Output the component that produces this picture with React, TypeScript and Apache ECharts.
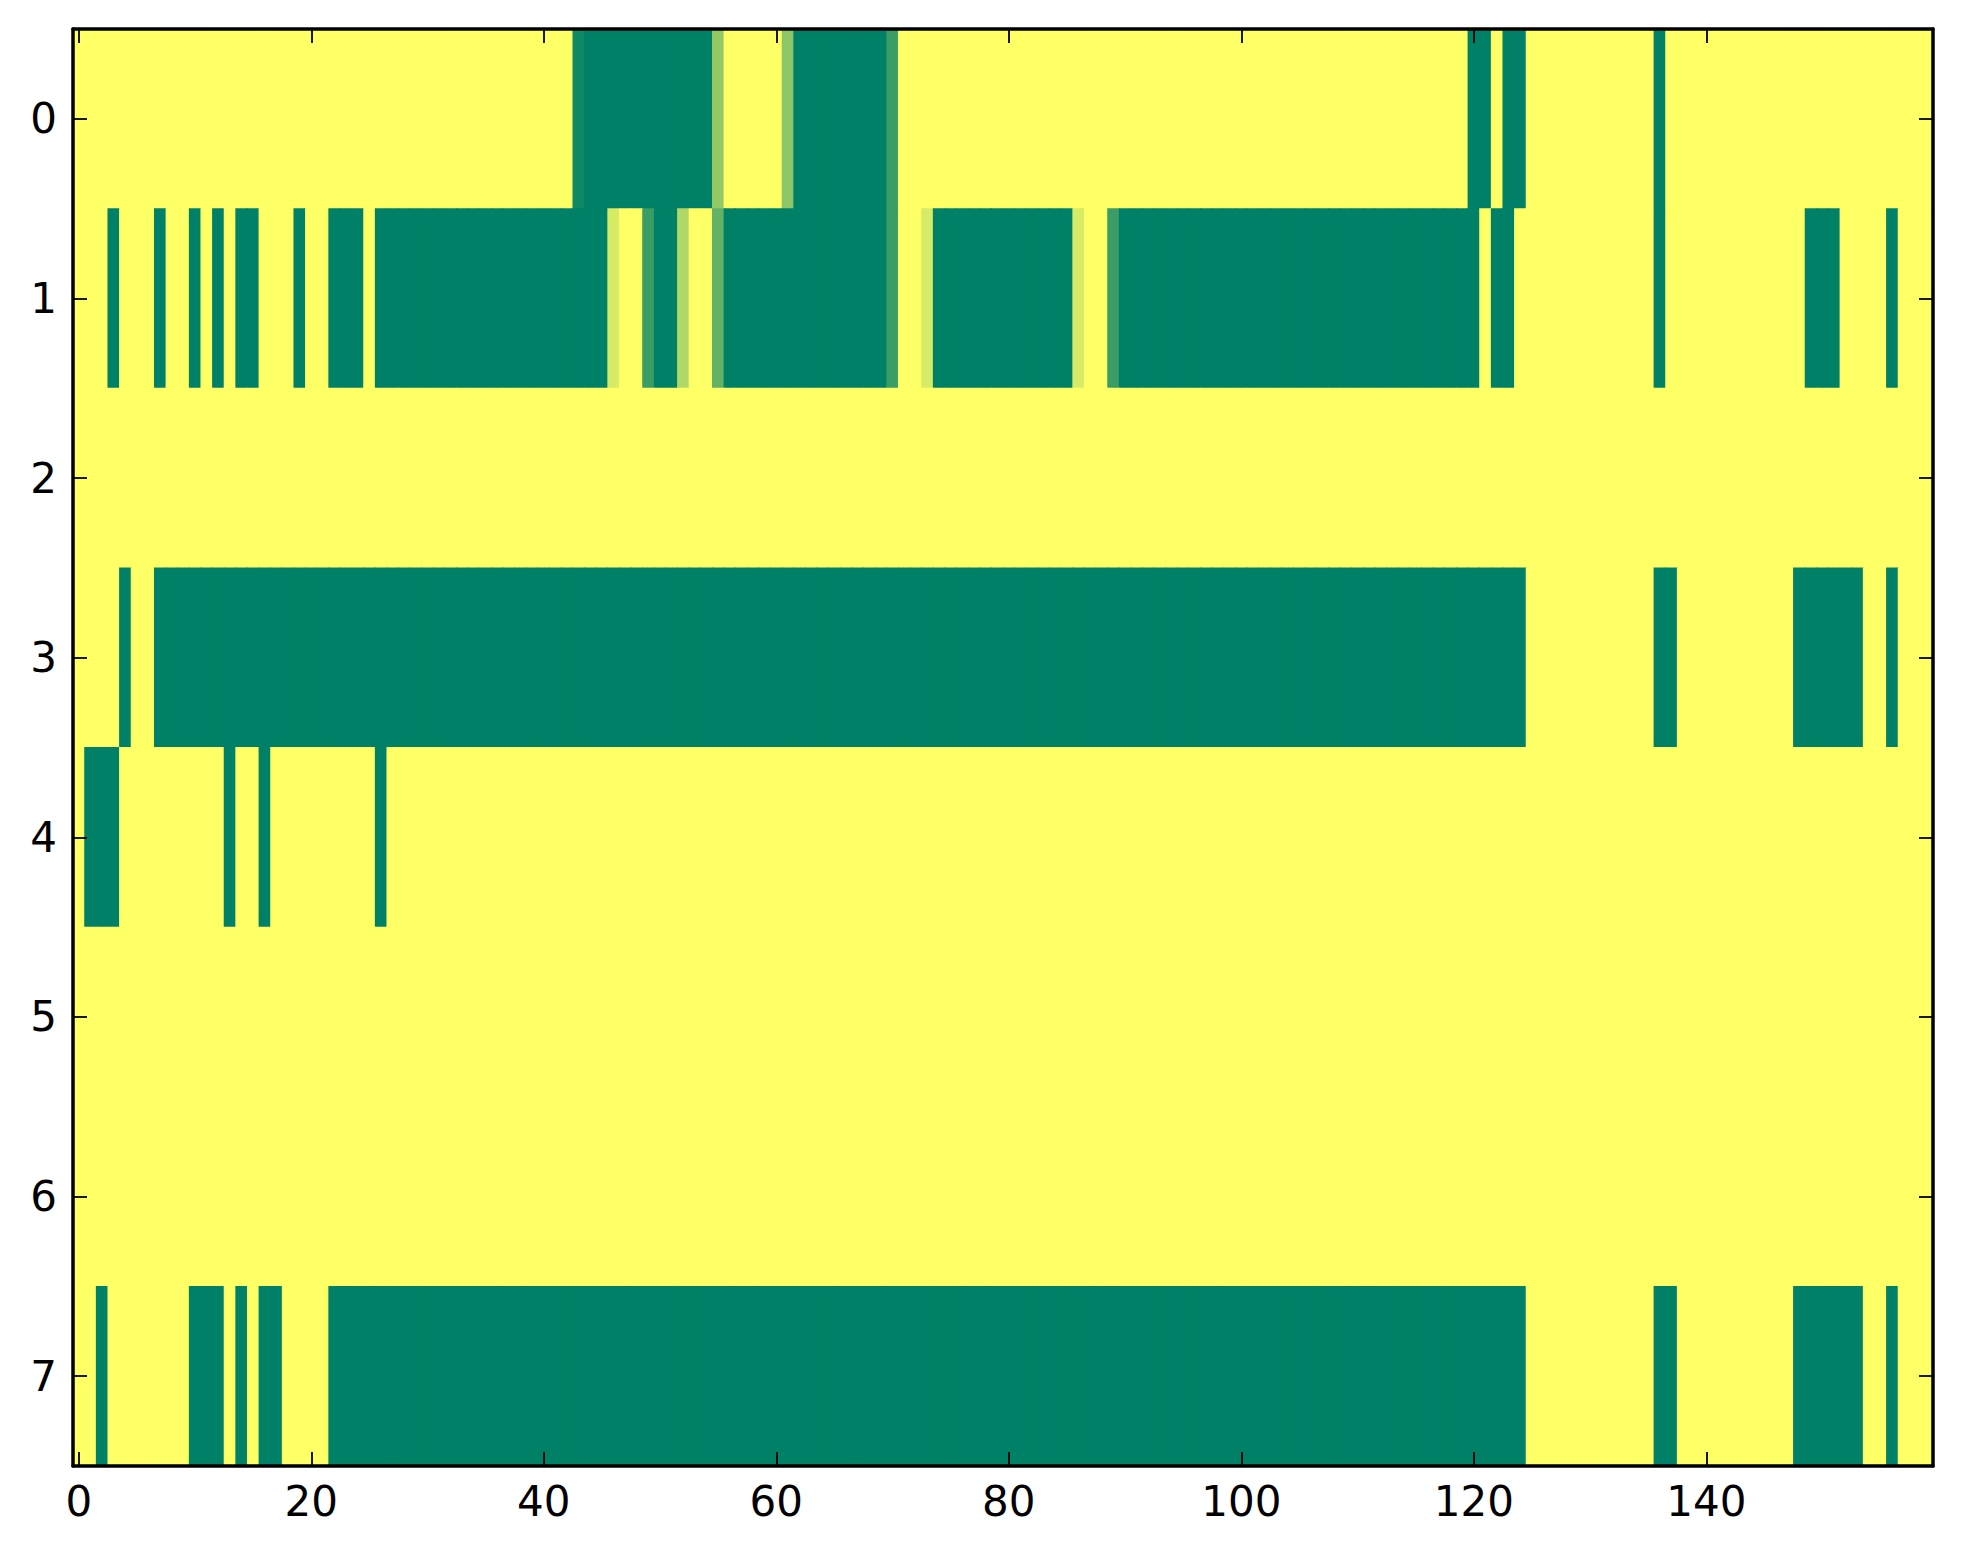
import { useEffect, useRef } from 'react';
import * as echarts from 'echarts';

// rows of the image, top (0) to bottom (7)
const rowLabels = ['0', '1', '2', '3', '4', '5', '6', '7'];
// one category per image column
const columnLabels = Array.from({ length: 160 }, (_, i) => String(i));
const xTickLabels = ['0', '20', '40', '60', '80', '100', '120', '140'];

// values per row, 20 columns per line (0 = green, 1 = yellow)
const row0 = [
  1, 1, 1, 1, 1, 1, 1, 1, 1, 1, 1, 1, 1, 1, 1, 1, 1, 1, 1, 1,
  1, 1, 1, 1, 1, 1, 1, 1, 1, 1, 1, 1, 1, 1, 1, 1, 1, 1, 1, 1,
  1, 1, 1, 0.07, 0, 0, 0, 0, 0, 0, 0, 0, 0, 0, 0, 0.58, 1, 1, 1, 1,
  1, 0.55, 0, 0, 0, 0, 0, 0, 0, 0, 0.23, 1, 1, 1, 1, 1, 1, 1, 1, 1,
  1, 1, 1, 1, 1, 1, 1, 1, 1, 1, 1, 1, 1, 1, 1, 1, 1, 1, 1, 1,
  1, 1, 1, 1, 1, 1, 1, 1, 1, 1, 1, 1, 1, 1, 1, 1, 1, 1, 1, 1,
  0, 0, 1, 0, 0, 1, 1, 1, 1, 1, 1, 1, 1, 1, 1, 1, 0, 1, 1, 1,
  1, 1, 1, 1, 1, 1, 1, 1, 1, 1, 1, 1, 1, 1, 1, 1, 1, 1, 1, 1,
];
const row1 = [
  1, 1, 1, 0, 1, 1, 1, 0, 1, 1, 0, 1, 0, 1, 0, 0, 1, 1, 1, 0,
  1, 1, 0, 0, 0, 1, 0, 0, 0, 0, 0, 0, 0, 0, 0, 0, 0, 0, 0, 0,
  0, 0, 0, 0, 0, 0, 0.84, 1, 1, 0.23, 0, 0, 0.69, 1, 1, 0.39, 0, 0, 0, 0,
  0, 0, 0, 0, 0, 0, 0, 0, 0, 0, 0.23, 1, 1, 0.84, 0, 0, 0, 0, 0, 0,
  0, 0, 0, 0, 0, 0, 0.84, 1, 1, 0.23, 0, 0, 0, 0, 0, 0, 0, 0, 0, 0,
  0, 0, 0, 0, 0, 0, 0, 0, 0, 0, 0, 0, 0, 0, 0, 0, 0, 0, 0, 0,
  0, 1, 0, 0, 1, 1, 1, 1, 1, 1, 1, 1, 1, 1, 1, 1, 0, 1, 1, 1,
  1, 1, 1, 1, 1, 1, 1, 1, 1, 0, 0, 0, 1, 1, 1, 1, 0, 1, 1, 1,
];
const row2 = [
  1, 1, 1, 1, 1, 1, 1, 1, 1, 1, 1, 1, 1, 1, 1, 1, 1, 1, 1, 1,
  1, 1, 1, 1, 1, 1, 1, 1, 1, 1, 1, 1, 1, 1, 1, 1, 1, 1, 1, 1,
  1, 1, 1, 1, 1, 1, 1, 1, 1, 1, 1, 1, 1, 1, 1, 1, 1, 1, 1, 1,
  1, 1, 1, 1, 1, 1, 1, 1, 1, 1, 1, 1, 1, 1, 1, 1, 1, 1, 1, 1,
  1, 1, 1, 1, 1, 1, 1, 1, 1, 1, 1, 1, 1, 1, 1, 1, 1, 1, 1, 1,
  1, 1, 1, 1, 1, 1, 1, 1, 1, 1, 1, 1, 1, 1, 1, 1, 1, 1, 1, 1,
  1, 1, 1, 1, 1, 1, 1, 1, 1, 1, 1, 1, 1, 1, 1, 1, 1, 1, 1, 1,
  1, 1, 1, 1, 1, 1, 1, 1, 1, 1, 1, 1, 1, 1, 1, 1, 1, 1, 1, 1,
];
const row3 = [
  1, 1, 1, 1, 0, 1, 1, 0, 0, 0, 0, 0, 0, 0, 0, 0, 0, 0, 0, 0,
  0, 0, 0, 0, 0, 0, 0, 0, 0, 0, 0, 0, 0, 0, 0, 0, 0, 0, 0, 0,
  0, 0, 0, 0, 0, 0, 0, 0, 0, 0, 0, 0, 0, 0, 0, 0, 0, 0, 0, 0,
  0, 0, 0, 0, 0, 0, 0, 0, 0, 0, 0, 0, 0, 0, 0, 0, 0, 0, 0, 0,
  0, 0, 0, 0, 0, 0, 0, 0, 0, 0, 0, 0, 0, 0, 0, 0, 0, 0, 0, 0,
  0, 0, 0, 0, 0, 0, 0, 0, 0, 0, 0, 0, 0, 0, 0, 0, 0, 0, 0, 0,
  0, 0, 0, 0, 0, 1, 1, 1, 1, 1, 1, 1, 1, 1, 1, 1, 0, 0, 1, 1,
  1, 1, 1, 1, 1, 1, 1, 1, 0, 0, 0, 0, 0, 0, 1, 1, 0, 1, 1, 1,
];
const row4 = [
  1, 0, 0, 0, 1, 1, 1, 1, 1, 1, 1, 1, 1, 0, 1, 1, 0, 1, 1, 1,
  1, 1, 1, 1, 1, 1, 0, 1, 1, 1, 1, 1, 1, 1, 1, 1, 1, 1, 1, 1,
  1, 1, 1, 1, 1, 1, 1, 1, 1, 1, 1, 1, 1, 1, 1, 1, 1, 1, 1, 1,
  1, 1, 1, 1, 1, 1, 1, 1, 1, 1, 1, 1, 1, 1, 1, 1, 1, 1, 1, 1,
  1, 1, 1, 1, 1, 1, 1, 1, 1, 1, 1, 1, 1, 1, 1, 1, 1, 1, 1, 1,
  1, 1, 1, 1, 1, 1, 1, 1, 1, 1, 1, 1, 1, 1, 1, 1, 1, 1, 1, 1,
  1, 1, 1, 1, 1, 1, 1, 1, 1, 1, 1, 1, 1, 1, 1, 1, 1, 1, 1, 1,
  1, 1, 1, 1, 1, 1, 1, 1, 1, 1, 1, 1, 1, 1, 1, 1, 1, 1, 1, 1,
];
const row5 = [
  1, 1, 1, 1, 1, 1, 1, 1, 1, 1, 1, 1, 1, 1, 1, 1, 1, 1, 1, 1,
  1, 1, 1, 1, 1, 1, 1, 1, 1, 1, 1, 1, 1, 1, 1, 1, 1, 1, 1, 1,
  1, 1, 1, 1, 1, 1, 1, 1, 1, 1, 1, 1, 1, 1, 1, 1, 1, 1, 1, 1,
  1, 1, 1, 1, 1, 1, 1, 1, 1, 1, 1, 1, 1, 1, 1, 1, 1, 1, 1, 1,
  1, 1, 1, 1, 1, 1, 1, 1, 1, 1, 1, 1, 1, 1, 1, 1, 1, 1, 1, 1,
  1, 1, 1, 1, 1, 1, 1, 1, 1, 1, 1, 1, 1, 1, 1, 1, 1, 1, 1, 1,
  1, 1, 1, 1, 1, 1, 1, 1, 1, 1, 1, 1, 1, 1, 1, 1, 1, 1, 1, 1,
  1, 1, 1, 1, 1, 1, 1, 1, 1, 1, 1, 1, 1, 1, 1, 1, 1, 1, 1, 1,
];
const row6 = [
  1, 1, 1, 1, 1, 1, 1, 1, 1, 1, 1, 1, 1, 1, 1, 1, 1, 1, 1, 1,
  1, 1, 1, 1, 1, 1, 1, 1, 1, 1, 1, 1, 1, 1, 1, 1, 1, 1, 1, 1,
  1, 1, 1, 1, 1, 1, 1, 1, 1, 1, 1, 1, 1, 1, 1, 1, 1, 1, 1, 1,
  1, 1, 1, 1, 1, 1, 1, 1, 1, 1, 1, 1, 1, 1, 1, 1, 1, 1, 1, 1,
  1, 1, 1, 1, 1, 1, 1, 1, 1, 1, 1, 1, 1, 1, 1, 1, 1, 1, 1, 1,
  1, 1, 1, 1, 1, 1, 1, 1, 1, 1, 1, 1, 1, 1, 1, 1, 1, 1, 1, 1,
  1, 1, 1, 1, 1, 1, 1, 1, 1, 1, 1, 1, 1, 1, 1, 1, 1, 1, 1, 1,
  1, 1, 1, 1, 1, 1, 1, 1, 1, 1, 1, 1, 1, 1, 1, 1, 1, 1, 1, 1,
];
const row7 = [
  1, 1, 0, 1, 1, 1, 1, 1, 1, 1, 0, 0, 0, 1, 0, 1, 0, 0, 1, 1,
  1, 1, 0, 0, 0, 0, 0, 0, 0, 0, 0, 0, 0, 0, 0, 0, 0, 0, 0, 0,
  0, 0, 0, 0, 0, 0, 0, 0, 0, 0, 0, 0, 0, 0, 0, 0, 0, 0, 0, 0,
  0, 0, 0, 0, 0, 0, 0, 0, 0, 0, 0, 0, 0, 0, 0, 0, 0, 0, 0, 0,
  0, 0, 0, 0, 0, 0, 0, 0, 0, 0, 0, 0, 0, 0, 0, 0, 0, 0, 0, 0,
  0, 0, 0, 0, 0, 0, 0, 0, 0, 0, 0, 0, 0, 0, 0, 0, 0, 0, 0, 0,
  0, 0, 0, 0, 0, 1, 1, 1, 1, 1, 1, 1, 1, 1, 1, 1, 0, 0, 1, 1,
  1, 1, 1, 1, 1, 1, 1, 1, 0, 0, 0, 0, 0, 0, 1, 1, 0, 1, 1, 1,
];

const rows = [row0, row1, row2, row3, row4, row5, row6, row7];

const fontFamily = "'DejaVu Sans', 'Bitstream Vera Sans', sans-serif";
const labelSize = 42;

function makeAxis(kind: 'x' | 'y', position: string, showLabels: boolean) {
  const data = kind === 'x' ? columnLabels : rowLabels;
  const tickFilter = (i: number) =>
    kind === 'x' ? xTickLabels.includes(columnLabels[i]) : true;
  return {
    type: 'category',
    data,
    position,
    inverse: kind === 'y',
    boundaryGap: true,
    z: 10,
    axisLine: { show: true, onZero: false, lineStyle: { color: '#000', width: 3.5 } },
    axisTick: {
      show: true,
      inside: true,
      alignWithLabel: true,
      interval: (i: number) => tickFilter(i),
      length: 14,
      lineStyle: { color: '#000', width: 1.8 },
    },
    axisLabel: {
      show: showLabels,
      interval: (i: number) => tickFilter(i),
      color: '#000',
      fontFamily,
      fontSize: labelSize,
      margin: kind === 'x' ? 14 : 16,
    },
    splitLine: { show: false },
    splitArea: { show: false },
  };
}

export default function App() {
  const chartRef = useRef<HTMLDivElement>(null);

  useEffect(() => {
    if (!chartRef.current) return;
    const chart = echarts.init(chartRef.current, null, { renderer: 'svg' });

    const cells: number[][] = [];
    rows.forEach((row, r) => row.forEach((v, c) => cells.push([c, r, v])));

    const option: any = {
      animation: false,
      backgroundColor: '#fff',
      grid: { left: 73, top: 29, width: 1860, height: 1437, containLabel: false },
      xAxis: [makeAxis('x', 'bottom', true), makeAxis('x', 'top', false)],
      yAxis: [makeAxis('y', 'left', true), makeAxis('y', 'right', false)],
      visualMap: {
        show: false,
        type: 'continuous',
        dimension: 2,
        min: 0,
        max: 1,
        inRange: { color: ['#008066', '#ffff66'] },
      },
      series: [
        {
          type: 'custom',
          xAxisIndex: 0,
          yAxisIndex: 0,
          encode: { x: 0, y: 1 },
          data: cells,
          z: 1,
          renderItem: (params: any, api: any) => {
            const p = api.coord([api.value(0), api.value(1)]);
            const size = api.size([1, 1]);
            // slight overlap so neighbouring cells leave no seams
            return {
              type: 'rect',
              shape: {
                x: p[0] - size[0] / 2 - 0.4,
                y: p[1] - size[1] / 2 - 0.4,
                width: size[0] + 0.8,
                height: size[1] + 0.8,
              },
              style: { fill: api.visual('color') },
            };
          },
        },
      ],
    };

    chart.setOption(option);

    return () => {
      chart.dispose();
    };
  }, []);

  return (
    <div
      ref={chartRef}
      style={{ position: 'absolute', left: 0, top: 0, width: '1963px', height: '1564px' }}
    />
  );
}
